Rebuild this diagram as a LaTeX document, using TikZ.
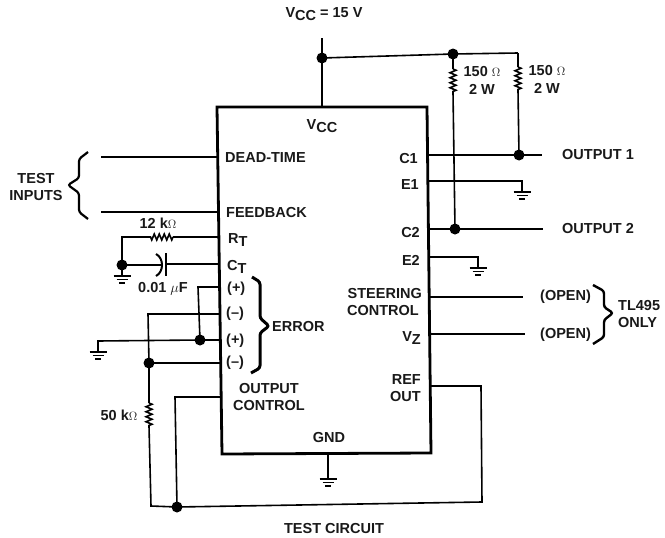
\documentclass[tikz,border=0pt]{standalone}
\usepackage{fontspec}
\setmainfont{Liberation Sans}
\usetikzlibrary{decorations.pathmorphing}

\newcommand{\lblfont}{\fontsize{14.5}{17}\bfseries\selectfont}
\newcommand{\ohms}{{\fontsize{12}{14}\mdseries\selectfont$\Omega$}}
\newcommand{\subl}[1]{\raisebox{-3pt}{#1}}

\tikzset{
    wire/.style={line width=1.6pt, line join=miter},
    chipedge/.style={line width=2.8pt, line join=miter},
    resistor/.style={wire, decorate, decoration={zigzag, amplitude=3pt, segment length=5pt}},
    bracket/.style={line width=2.2pt, rounded corners=2.5pt},
    lbl/.style={font=\lblfont, inner sep=0pt, text=black!90},
    gndsym/.pic={
        \draw[line width=1.6pt] (-8.5,0) -- (8.5,0);
        \draw[line width=1.6pt] (-5.5,3.5) -- (5.5,3.5);
        \draw[line width=1.6pt] (-3,7) -- (3,7);
    }
}

\begin{document}
\begin{tikzpicture}[x=1pt, y=-1pt]

    \useasboundingbox (0,0) rectangle (665,538);

    % Chip outline
    \coordinate (TL) at (217,107);
    \coordinate (TR) at (427,107);
    \coordinate (BR) at (431,453);
    \coordinate (BL) at (222,454);
    \draw[chipedge] (TL) -- (TR) -- (BR) -- (BL) -- cycle;

    % Pins on the left side
    \foreach \p/\x/\y in {deadtime/217/157, feedback/218/212, rt/218/237, ct/218/264,
        errA/218/287, errB/219/314, errC/220/340, errD/220/363, outctl/221/397} {
        \coordinate (\p) at (\x,\y);
    }
    % Pins on the right side
    \foreach \p/\x/\y in {cA/428/155, eA/428/181, cB/429/229, eB/430/257,
        steer/430/297, vz/431/334, refout/431/386, vcc/322/107, gnd/328/454} {
        \coordinate (\p) at (\x,\y);
    }

    % Junctions
    \coordinate (Jvcc) at (322,58);
    \coordinate (JrA) at (453,54);
    \coordinate (JrB) at (518,53);
    \coordinate (Jout) at (519,155);
    \coordinate (Jc) at (455,229);
    \coordinate (Jgnd) at (122,265);
    \coordinate (Jerr) at (200,340);
    \coordinate (Jfb) at (149,363);
    \coordinate (Jref) at (177,507);

    % Supply and load resistors
    \coordinate (vtop) at (322,38);
    \draw[wire] (vtop) -- (vcc);
    \draw[wire] (Jvcc) -- (JrA) -- (JrB);
    \draw[wire] (JrA) -- (453,69);
    \draw[resistor] (453,69) -- (453,92);
    \draw[wire] (453,92) -- (Jc);
    \draw[wire] (JrB) -- (518,67);
    \draw[resistor] (518,67) -- (518,90);
    \draw[wire] (518,90) -- (Jout);

    % Outputs
    \coordinate (outA) at (542,155);
    \coordinate (outB) at (543,229);
    \draw[wire] (cA) -- (outA);
    \draw[wire] (cB) -- (outB);
    \draw[wire] (eA) -- (522,181) -- (522,192);
    \pic at (522,192) {gndsym};
    \draw[wire] (eB) -- (478,257) -- (478,268);
    \pic at (478,268) {gndsym};

    % Open pins
    \coordinate (openA) at (523,297);
    \coordinate (openB) at (525,334);
    \draw[wire] (steer) -- (openA);
    \draw[wire] (vz) -- (openB);

    % Test inputs
    \coordinate (inA) at (101,157);
    \coordinate (inB) at (101,212);
    \draw[wire] (inA) -- (deadtime);
    \draw[wire] (inB) -- (feedback);

    % Timing parts
    \draw[wire] (rt) -- (173,237);
    \draw[resistor] (173,237) -- (150,237);
    \draw[wire] (150,237) -- (122,237) -- (Jgnd);
    \draw[wire] (Jgnd) -- (162,265);
    \draw[line width=2pt] (156,254) .. controls (164,258) and (164,272) .. (156,276);
    \draw[line width=2pt] (166,253) -- (166,276);
    \draw[wire] (166,264) -- (ct);
    \draw[wire] (Jgnd) -- (122,276);
    \pic at (122,276) {gndsym};

    % Error amplifier
    \draw[wire] (errA) -- (198,287) -- (Jerr);
    \draw[wire] (errB) -- (148,314) -- (Jfb);
    \draw[wire] (errC) -- (Jerr) -- (98,341) -- (98,352);
    \pic at (98,352) {gndsym};
    \draw[wire] (errD) -- (Jfb);
    \draw[wire] (Jfb) -- (149,403);
    \draw[resistor] (149,403) -- (149,426);
    \draw[wire] (149,426) -- (151,506) -- (Jref);

    % Output control and reference
    \draw[wire] (outctl) -- (175,397) -- (Jref);
    \draw[wire] (refout) -- (481,386) -- (482,502) -- (Jref);

    % Ground pin
    \draw[wire] (gnd) -- (328,479);
    \pic at (328,479) {gndsym};

    % All junction dots
    \foreach \p in {Jvcc,JrA,Jout,Jc,Jgnd,Jerr,Jfb,Jref} {
        \fill[black] (\p) circle (5.5);
    }

    % Braces
    \draw[bracket] (88,152) -- (79,159) -- (79,178) -- (68,185) -- (79,193) -- (79,212) -- (88,219);
    \draw[line width=3pt, rounded corners=2.5pt] (252,277) -- (260,282) -- (260,318) -- (269,326) -- (260,333) -- (260,368) -- (251,373);
    \draw[line width=2.4pt, rounded corners=2.5pt] (593,285) -- (604,291) -- (604,307) -- (613,313) -- (604,320) -- (604,337) -- (593,344);

    % Labels
    \node[lbl, anchor=base] (vsupply) at (324,17) {V\subl{CC} = 15 V};
    \node[lbl, anchor=base] (vcclbl) at (322,129) {V\subl{CC}};
    \node[lbl, anchor=base west] (deadlbl) at (225,162) {DEAD-TIME};
    \node[lbl, anchor=base west] (fblbl) at (226,217) {FEEDBACK};
    \node[lbl, anchor=base west] (rtlbl) at (228,243) {R\subl{T}};
    \node[lbl, anchor=base west] (ctlbl) at (227,270) {C\subl{T}};
    \node[lbl, anchor=base west] (plusA) at (227,292) {(+)};
    \node[lbl, anchor=base west] (minusA) at (226,317) {(--)};
    \node[lbl, anchor=base west] (plusB) at (226,344) {(+)};
    \node[lbl, anchor=base west] (minusB) at (226,366) {(--)};
    \node[lbl, anchor=base west] (errlbl) at (272,331) {ERROR};
    \node[lbl, anchor=base] (outctlA) at (269,393) {OUTPUT};
    \node[lbl, anchor=base] (outctlB) at (269,410) {CONTROL};
    \node[lbl, anchor=base] (gndlbl) at (329,442) {GND};
    \node[lbl, anchor=base east] (cAlbl) at (418,163) {C1};
    \node[lbl, anchor=base east] (eAlbl) at (419,189) {E1};
    \node[lbl, anchor=base east] (cBlbl) at (420,237) {C2};
    \node[lbl, anchor=base east] (eBlbl) at (420,265) {E2};
    \node[lbl, anchor=base east] (steerA) at (422,298) {STEERING};
    \node[lbl, anchor=base east] (steerB) at (419,315) {CONTROL};
    \node[lbl, anchor=base east] (vzlbl) at (421,341) {V\subl{Z}};
    \node[lbl, anchor=base east] (refA) at (421,384) {REF};
    \node[lbl, anchor=base east] (refB) at (421,401) {OUT};
    \node[lbl, anchor=base west] (outlblA) at (562,159) {OUTPUT 1};
    \node[lbl, anchor=base west] (outlblB) at (562,233) {OUTPUT 2};
    \node[lbl, anchor=base west] (openlblA) at (540,300) {(OPEN)};
    \node[lbl, anchor=base west] (openlblB) at (540,338) {(OPEN)};
    \node[lbl, anchor=base west] (tlA) at (618,310) {TL495};
    \node[lbl, anchor=base west] (tlB) at (618,327) {ONLY};
    \node[lbl, anchor=base] (testA) at (36,183) {TEST};
    \node[lbl, anchor=base] (testB) at (36,200) {INPUTS};
    \node[lbl, anchor=base] (rtval) at (158,228) {12 k\ohms};
    \node[lbl, anchor=base] (ctval) at (163,292) {0.01 {\mdseries$\mu$}F};
    \node[lbl, anchor=base] (rfbval) at (119,420) {50 k\ohms};
    \node[lbl, anchor=base] (rAval) at (482,76) {150 \ohms};
    \node[lbl, anchor=base] (rApow) at (482,94) {2 W};
    \node[lbl, anchor=base] (rBval) at (547,75) {150 \ohms};
    \node[lbl, anchor=base] (rBpow) at (547,93) {2 W};
    \node[lbl, anchor=base] (caption) at (334,533) {TEST CIRCUIT};

\end{tikzpicture}
\end{document}
